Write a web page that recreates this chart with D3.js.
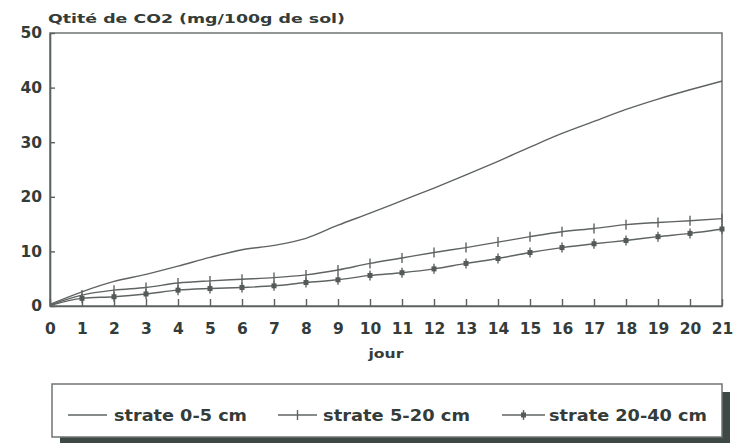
<!DOCTYPE html>
<html>
<head>
<meta charset="utf-8">
<script src="https://cdn.jsdelivr.net/npm/d3@7"></script>
<style>
  html, body { margin: 0; padding: 0; background: #fff; }
  svg { display: block; }
  text { font-family: "DejaVu Sans", sans-serif; font-weight: bold; fill: #343c39; }
</style>
</head>
<body>
<svg id="chart" width="738" height="443"></svg>
<script>
// Days of incubation
const days = [0,1,2,3,4,5,6,7,8,9,10,11,12,13,14,15,16,17,18,19,20,21];
// Cumulative CO2 released (mg / 100 g soil) per layer
const strate0_5   = [0.3, 2.6, 4.5, 5.8, 7.3, 8.9, 10.3, 11.1, 12.4, 14.8, 17.0, 19.3, 21.6, 24.0, 26.5, 29.1, 31.6, 33.8, 36.0, 37.9, 39.6, 41.2];
const strate5_20  = [0.2, 2.0, 2.9, 3.4, 4.2, 4.6, 4.9, 5.2, 5.7, 6.6, 7.8, 8.8, 9.8, 10.7, 11.7, 12.7, 13.6, 14.2, 14.9, 15.3, 15.6, 16.0];
const strate20_40 = [0.1, 1.4, 1.7, 2.2, 2.9, 3.2, 3.4, 3.7, 4.3, 4.8, 5.6, 6.1, 6.8, 7.8, 8.7, 9.8, 10.7, 11.4, 12.0, 12.7, 13.3, 14.1];
const yTicks = [0, 10, 20, 30, 40, 50];
const seriesNames = ["strate 0-5 cm", "strate 5-20 cm", "strate 20-40 cm"];
const titleText = "Qtité de CO2 (mg/100g de sol)";
const xTitle = "jour";

const svg = d3.select("#chart");
const m = { left: 50, right: 722, top: 33, bottom: 306 };
const x = d3.scaleLinear().domain([0, 21]).range([m.left, m.right]);
const y = d3.scaleLinear().domain([0, 50]).range([m.bottom, m.top]);

const ink = "#5a605e";

// plot frame
svg.append("rect")
  .attr("x", m.left).attr("y", m.top)
  .attr("width", m.right - m.left).attr("height", m.bottom - m.top)
  .attr("fill", "none").attr("stroke", "#6f7472").attr("stroke-width", 1.5);

// axes with inward ticks
const xAxis = svg.append("g")
  .attr("transform", `translate(0,${m.bottom})`)
  .call(d3.axisBottom(x).tickValues(days).tickSize(-7).tickPadding(17).tickSizeOuter(0).tickFormat(d3.format("d")));
xAxis.select(".domain").attr("stroke", ink).attr("stroke-width", 1.6);
xAxis.selectAll(".tick line").attr("stroke", ink).attr("stroke-width", 1.4);
xAxis.selectAll(".tick text").attr("font-size", 15.5).attr("font-family", "DejaVu Sans").attr("font-weight", "bold").attr("fill", "#343c39");

const yAxis = svg.append("g")
  .attr("transform", `translate(${m.left},0)`)
  .call(d3.axisLeft(y).tickValues(yTicks).tickSize(-5).tickPadding(8).tickSizeOuter(0).tickFormat(d3.format("d")));
yAxis.select(".domain").attr("stroke", ink).attr("stroke-width", 1.6);
yAxis.selectAll(".tick line").attr("stroke", ink).attr("stroke-width", 1.4);
yAxis.selectAll(".tick text").attr("font-size", 15.5).attr("font-family", "DejaVu Sans").attr("font-weight", "bold").attr("fill", "#343c39");

// titles
svg.append("text").attr("x", 48).attr("y", 23)
  .attr("font-size", 13).attr("textLength", 297).attr("lengthAdjust", "spacingAndGlyphs")
  .text(titleText);
svg.append("text").attr("x", 386).attr("y", 358).attr("text-anchor", "middle")
  .attr("font-size", 13).attr("textLength", 35).attr("lengthAdjust", "spacingAndGlyphs").text(xTitle);

// series lines
const line = d3.line().x((d, i) => x(days[i])).y(d => y(d)).curve(d3.curveMonotoneX);
const lineColor = "#5f6462";
[strate0_5, strate5_20, strate20_40].forEach(vals => {
  svg.append("path").datum(vals)
    .attr("d", line).attr("fill", "none")
    .attr("stroke", lineColor).attr("stroke-width", 1.4);
});

// markers: vertical tick for 5-20, tick with small block for 20-40
function tickMark(g, cx, cy) {
  g.append("line").attr("x1", cx).attr("x2", cx).attr("y1", cy - 5).attr("y2", cy + 5)
    .attr("stroke", lineColor).attr("stroke-width", 1.4);
}
function blockMark(g, cx, cy) {
  g.append("line").attr("x1", cx).attr("x2", cx).attr("y1", cy - 5).attr("y2", cy + 5)
    .attr("stroke", lineColor).attr("stroke-width", 1.4);
  g.append("rect").attr("x", cx - 2.5).attr("y", cy - 2.5).attr("width", 5).attr("height", 5)
    .attr("fill", "#545a58");
}
const mk = svg.append("g");
strate5_20.forEach((v, i) => { if (i > 0) tickMark(mk, x(days[i]), y(v)); });
strate20_40.forEach((v, i) => { if (i > 0) blockMark(mk, x(days[i]), y(v)); });

// legend box with drop shadow
const lg = svg.append("g");
lg.append("rect").attr("x", 60).attr("y", 392).attr("width", 670).attr("height", 51).attr("fill", "#3e4845");
lg.append("rect").attr("x", 52).attr("y", 384).attr("width", 670).attr("height", 53)
  .attr("fill", "#fff").attr("stroke", "#6f7472").attr("stroke-width", 1.5);

const legendItems = [
  { x1: 68,  x2: 107, tx: 114, tw: 133, mark: null },
  { x1: 278, x2: 317, tx: 323, tw: 147, mark: tickMark },
  { x1: 502, x2: 545, tx: 549, tw: 158, mark: blockMark }
];
const ly = 415;
legendItems.forEach((it, i) => {
  lg.append("line").attr("x1", it.x1).attr("x2", it.x2).attr("y1", ly).attr("y2", ly)
    .attr("stroke", lineColor).attr("stroke-width", 1.4);
  if (it.mark) it.mark(lg, (it.x1 + it.x2) / 2, ly);
  lg.append("text").attr("x", it.tx).attr("y", ly + 5.5)
    .attr("font-size", 15).attr("textLength", it.tw).attr("lengthAdjust", "spacingAndGlyphs")
    .text(seriesNames[i]);
});
</script>
</body>
</html>
